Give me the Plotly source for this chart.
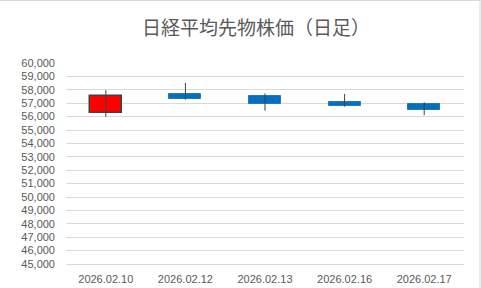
import plotly.graph_objects as go

dates = ["2026.02.10", "2026.02.12", "2026.02.13", "2026.02.16", "2026.02.17"]
open_ = [56250, 57690, 57540, 57090, 56940]
high = [57960, 58510, 57740, 57690, 57070]
low = [55990, 57260, 56440, 56740, 56100]
close = [57540, 57340, 56920, 56810, 56510]

y_ticks = list(range(45000, 60001, 1000))
y_tick_text = [f"{v:,}" for v in y_ticks]

up_fill, up_line = "#FF0000", "#404040"
dn_fill, dn_line = "#0070C0", "#2E75B6"

fig = go.Figure()

# wicks
wx, wy = [], []
for d, h, l in zip(dates, high, low):
    wx += [d, d, None]
    wy += [l, h, None]
fig.add_trace(go.Scatter(x=wx, y=wy, mode="lines",
                         line=dict(color="#404040", width=1),
                         hoverinfo="skip", showlegend=False))

# bodies
base = [min(o, c) for o, c in zip(open_, close)]
height = [abs(c - o) for o, c in zip(open_, close)]
fills = [up_fill if c >= o else dn_fill for o, c in zip(open_, close)]
lines = [up_line if c >= o else dn_line for o, c in zip(open_, close)]
widths = [1.5 if c >= o else 1 for o, c in zip(open_, close)]
fig.add_trace(go.Bar(x=dates, y=height, base=base, width=0.4,
                     marker=dict(color=fills, line=dict(color=lines, width=widths)),
                     showlegend=False))

L, R, T, B = 66, 17, 63, 24
W, H = 481, 288
pw, ph = W - L - R, H - T - B

fig.update_layout(
    width=W, height=H,
    margin=dict(l=L, r=R, t=T, b=B, pad=0, autoexpand=False),
    paper_bgcolor="white", plot_bgcolor="white",
    font=dict(family="Liberation Sans, Arial, sans-serif", size=11, color="#595959"),
    title=dict(text="日経平均先物株価（日足）", x=256 / W, xanchor="center",
               y=1 - 28 / H, yanchor="middle",
               font=dict(family="Noto Sans CJK JP", size=19, color="#595959")),
    showlegend=False,
    bargap=0,
    xaxis=dict(type="category", showgrid=False, showline=True, linecolor="#D9D9D9",
               linewidth=1, ticks="", ticklabelstandoff=5, automargin=False,
               tickfont=dict(size=11, color="#595959"),
               fixedrange=True),
    yaxis=dict(range=[45000, 60000], tickvals=y_ticks, ticktext=y_tick_text,
               showgrid=True, gridcolor="#D9D9D9", gridwidth=1, zeroline=False,
               showline=False, ticks="", ticklabelstandoff=10, automargin=False,
               tickfont=dict(size=11, color="#595959")),
    shapes=[
        dict(type="line", xref="paper", yref="paper",
             x0=-L / pw, x1=(W - 0.5 - L) / pw,
             y0=1 + (T - 0.5) / ph, y1=1 + (T - 0.5) / ph,
             line=dict(color="#D9D9D9", width=1)),
        dict(type="line", xref="paper", yref="paper",
             x0=(W - 1 - L) / pw, x1=(W - 1 - L) / pw,
             y0=-B / ph, y1=1 + T / ph,
             line=dict(color="#D9D9D9", width=1)),
    ],
)

fig.write_html("out.html")
